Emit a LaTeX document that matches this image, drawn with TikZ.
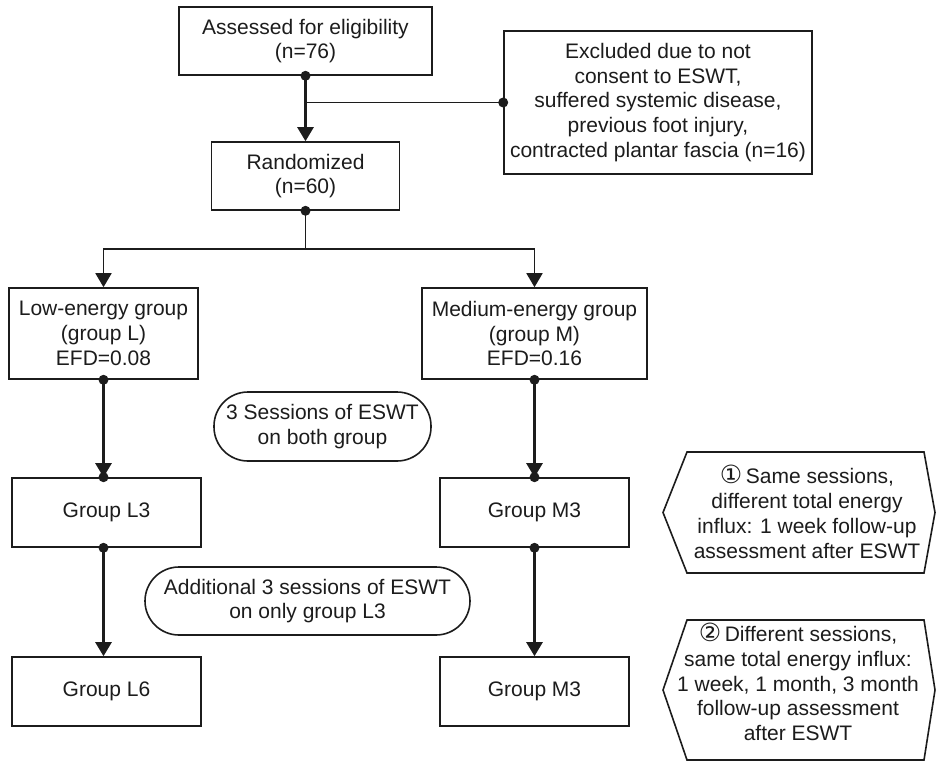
\documentclass[tikz,border=0pt]{standalone}
\usepackage{fontspec}
\setmainfont{Liberation Sans}
\newfontfamily\dejavu{DejaVu Sans}
\usetikzlibrary{arrows.meta}
\definecolor{ink}{HTML}{1C1C1C}
\newcommand{\circnum}[1]{{\dejavu\fontsize{25}{24.8}\selectfont #1}}
\begin{document}
\begin{tikzpicture}[x=1pt,y=-1pt,
  txt/.style={text=ink,align=center,inner sep=0pt,font=\fontsize{21}{24.8}\selectfont},
  box/.style={txt,draw=ink,line width=1.6pt},
  oval/.style={box,rounded corners=34pt},
  conn/.style={draw=ink,line width=1.6pt},
  arr/.style={draw=ink,line width=2.6pt,-{Triangle[length=14pt,width=16pt]}},
  thinarr/.style={draw=ink,line width=1.8pt,-{Triangle[length=14pt,width=16pt]}},
  dot/.style={circle,fill=ink,inner sep=0pt,minimum size=10pt}]
\useasboundingbox (0,0) rectangle (936,763);
\fill[white] (0,0) rectangle (936,763);

\node[box,minimum width=253pt,minimum height=68pt] (ass) at (305.5,41) {Assessed for eligibility\\(n=76)};
\node[box,minimum width=188pt,minimum height=68pt] (rand) at (305.5,176) {Randomized\\(n=60)};
\node[box,minimum width=308pt,minimum height=143pt] (excl) at (658,102.5) {Excluded due to not\\consent to ESWT,\\suffered systemic disease,\\previous foot injury,\\contracted plantar fascia (n=16)};
\node[box,minimum width=189pt,minimum height=91pt] (low) at (103.5,333.5) {Low-energy group\\(group L)\\EFD=0.08};
\node[box,minimum width=225pt,minimum height=91pt] (med) at (534.5,333.5) {Medium-energy group\\(group M)\\EFD=0.16};
\node[box,minimum width=189pt,minimum height=69pt] (l3) at (106.5,512.5) {Group L3};
\node[box,minimum width=189pt,minimum height=69pt] (m3) at (534.5,512.5) {Group M3};
\node[box,minimum width=189pt,minimum height=69pt] (l6) at (106.5,691.5) {Group L6};
\node[box,minimum width=189pt,minimum height=69pt] (m3b) at (534.5,691.5) {Group M3};
\node[oval,minimum width=217pt,minimum height=69pt] (ov1) at (322.5,426.5) {3 Sessions of ESWT\\on both group};
\node[oval,minimum width=325pt,minimum height=68pt] (ov2) at (307.5,601) {Additional 3 sessions of ESWT\\on only group L3};

\node[txt] (h1) at (807,512) {\circnum{①}\,Same sessions,\\different total energy\\influx: 1 week follow-up\\assessment after ESWT};
\node[txt] (h2) at (798,682) {\circnum{②}\,Different sessions,\\same total energy influx:\\1 week, 1 month, 3 month\\follow-up assessment\\after ESWT};
\draw[ink,line width=1.6pt,line join=miter] (663,512.5) -- (687,452) -- (924,452) -- (935,512.5) -- (924,573) -- (687,573) -- cycle;
\draw[ink,line width=1.6pt,line join=miter] (663,690) -- (687,620) -- (924,620) -- (935,690) -- (924,760) -- (687,760) -- cycle;

% connectors
\draw[arr] (ass.south) -- (rand.north);
\draw[conn] (ass.south |- excl.west) -- (excl.west);
\draw[conn] (rand.south) -- ++(0,38) coordinate (br);
\draw[thinarr] (br) -| (low.north);
\draw[thinarr] (br) -| (med.north);
\draw[arr] (low.south) -- (low.south |- l3.north);
\draw[arr] (low.south |- l3.south) -- (low.south |- l6.north);
\draw[arr] (med.south) -- (m3.north);
\draw[arr] (m3.south) -- (m3b.north);

% dots
\node[dot] (d1) at (ass.south) {};
\node[dot] (d2) at (excl.west) {};
\node[dot] (d3) at (rand.south) {};
\node[dot] (d4) at (low.south) {};
\node[dot] (d5) at (low.south |- l3.north) {};
\node[dot] (d6) at (low.south |- l3.south) {};
\node[dot] (d7) at (med.south) {};
\node[dot] (d8) at (m3.north) {};
\node[dot] (d9) at (m3.south) {};
\end{tikzpicture}
\end{document}
